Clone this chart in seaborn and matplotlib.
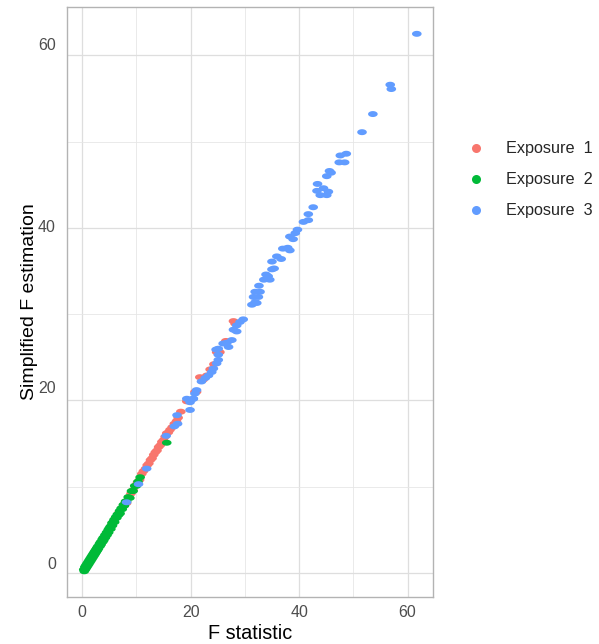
import numpy as np
import pandas as pd
import matplotlib
matplotlib.use("Agg")
import matplotlib.pyplot as plt
from matplotlib.path import Path
from matplotlib.markers import MarkerStyle
from matplotlib.lines import Line2D
from matplotlib.ticker import MultipleLocator
from matplotlib.transforms import ScaledTranslation
import seaborn as sns

# Exposure 1 (red)
exp1_f = [5.5, 6.2, 6.8, 7.3, 7.8, 8.2, 8.6, 9.0, 9.4, 9.8, 10.2, 10.6, 11.0, 11.3,
          11.7, 12.0, 12.3, 12.6, 12.9, 13.2, 13.5, 13.8, 14.1, 14.4, 14.7, 15.0,
          15.3, 15.6, 15.9, 16.2, 16.6, 17.0, 17.4, 17.7, 18.2, 19.3, 19.6, 20.8,
          21.1, 21.7, 22.3, 23.0, 23.6, 24.3, 24.8, 25.4, 26.5, 27.9, 28.2]
exp1_s = [5.6, 6.4, 7.0, 7.5, 8.0, 8.1, 8.8, 9.2, 9.6, 10.1, 10.5, 10.8, 11.5, 11.8,
          12.1, 12.5, 12.7, 13.1, 13.3, 13.7, 14.0, 14.2, 14.6, 14.8, 15.2, 15.4,
          15.8, 16.2, 16.3, 16.6, 16.9, 17.3, 17.6, 18.0, 18.7, 19.9, 20.0, 21.0,
          21.0, 22.7, 22.4, 22.9, 23.6, 24.2, 25.6, 25.6, 26.9, 29.2, 28.9]

# Exposure 2 (green)
exp2_f = [0.3, 0.4, 0.5, 0.6, 0.7, 0.8, 0.9, 1.0, 1.1, 1.2, 1.3, 1.4, 1.5, 1.6, 1.7,
          1.8, 1.9, 2.0, 2.1, 2.2, 2.3, 2.4, 2.5, 2.6, 2.7, 2.8, 2.9, 3.0, 3.2, 3.3,
          3.4, 3.5, 3.7, 3.8, 3.9, 4.0, 4.2, 4.3, 4.5, 4.6, 4.8, 4.9, 5.0, 5.2, 5.3,
          5.5, 5.6, 5.8, 5.9, 6.0, 6.2, 6.4, 6.5, 6.7, 6.9, 7.0, 7.2, 7.4, 7.6, 7.8,
          8.0, 8.2, 8.5, 8.8, 9.1, 9.4, 9.7, 10.0, 10.3, 10.7, 15.6]
exp2_s = [0.4, 0.2, 0.7, 0.4, 0.9, 0.6, 1.1, 0.8, 1.3, 1.0, 1.5, 1.2, 1.7, 1.4, 1.9,
          1.6, 2.1, 1.8, 2.3, 2.0, 2.5, 2.2, 2.7, 2.4, 2.9, 2.6, 3.1, 2.8, 3.4, 3.1,
          3.6, 3.3, 3.9, 3.6, 4.1, 3.8, 4.4, 4.1, 4.7, 4.4, 5.0, 4.7, 5.2, 5.4, 5.1,
          5.8, 5.5, 6.0, 6.2, 5.9, 6.5, 6.4, 6.8, 6.7, 7.2, 6.9, 7.5, 7.4, 7.9, 7.8,
          8.3, 8.3, 8.8, 8.7, 9.5, 9.5, 10.1, 10.1, 10.6, 11.1, 15.1]

# Exposure 3 (blue)
exp3_f = [8.2, 10.4, 11.9, 15.5, 17.0, 17.6, 17.5, 19.3, 19.9, 20.5, 19.9, 20.5,
          20.8, 21.1, 22.0, 22.7, 23.3, 23.9, 24.2, 24.8, 25.1, 25.1, 24.7, 25.1,
          26.0, 26.7, 27.6, 27.0, 27.9, 28.5, 28.5, 29.1, 29.7, 31.3, 31.9, 32.2,
          32.5, 31.6, 31.9, 32.6, 32.8, 33.5, 33.9, 34.3, 34.6, 35.0, 35.4, 35.0,
          35.9, 36.7, 37.0, 37.9, 38.3, 38.3, 38.9, 39.3, 39.7, 40.8, 41.7, 41.7,
          42.6, 43.3, 43.9, 44.5, 45.1, 45.4, 43.4, 45.1, 45.9, 45.6, 47.4, 48.4,
          47.6, 48.7, 51.6, 53.6, 56.8, 57.0, 61.7]
exp3_s = [8.2, 10.3, 12.1, 15.9, 17.0, 17.3, 18.3, 20.2, 18.9, 20.2, 19.8, 20.2,
          20.8, 21.2, 22.2, 22.6, 22.9, 23.3, 23.7, 24.3, 24.7, 25.3, 25.9, 26.0,
          26.6, 26.7, 27.0, 26.2, 28.2, 28.0, 28.7, 29.1, 29.4, 31.1, 31.4, 31.3,
          32.0, 32.0, 32.6, 33.3, 32.6, 34.0, 34.6, 34.4, 34.0, 35.2, 35.3, 36.1,
          36.7, 36.4, 37.6, 37.7, 37.4, 39.0, 38.7, 39.4, 39.8, 40.7, 40.9, 41.6,
          42.4, 44.3, 43.8, 44.6, 43.8, 44.2, 45.1, 46.0, 46.4, 46.6, 47.6, 47.6,
          48.4, 48.6, 51.1, 53.2, 56.6, 56.1, 62.5]

groups = ["Exposure  1", "Exposure  2", "Exposure  3"]
colors = ["#F8766D", "#00BA38", "#619CFF"]

df = pd.DataFrame({
    "F statistic": exp1_f + exp2_f + exp3_f,
    "Simplified F estimation": exp1_s + exp2_s + exp3_s,
    "exposure": [groups[0]] * len(exp1_f) + [groups[1]] * len(exp2_f) + [groups[2]] * len(exp3_f),
})

sns.set_theme(style="whitegrid")
plt.rcParams['font.family'] = ['Liberation Sans', 'DejaVu Sans']

# points look stretched horizontally in the reference
t = np.linspace(0, 2 * np.pi, 40)
ell = Path(np.column_stack([np.cos(t), 0.62 * np.sin(t)]), closed=True)
ell_marker = MarkerStyle(ell)

fig = plt.figure(figsize=(5.99, 6.44), dpi=100)
ax = fig.add_axes([0.112, 0.073, 0.611, 0.916])

sns.scatterplot(data=df, x="F statistic", y="Simplified F estimation", hue="exposure",
                palette=colors, marker=ell_marker, s=48, linewidth=0, alpha=1,
                legend=False, ax=ax)

ax.set_xlim(-2.77, 64.7)
ax.set_ylim(-2.78, 65.6)
ax.xaxis.set_major_locator(MultipleLocator(20))
ax.yaxis.set_major_locator(MultipleLocator(20))
ax.xaxis.set_minor_locator(MultipleLocator(10))
ax.yaxis.set_minor_locator(MultipleLocator(10))
ax.grid(which="major", color="#DEDEDE", linewidth=0.9)
ax.grid(which="minor", color="#E6E6E6", linewidth=0.6)
ax.set_axisbelow(True)
for sp in ax.spines.values():
    sp.set_color("#B3B3B3")
    sp.set_linewidth(1.0)
ax.tick_params(which="major", length=0, labelcolor="#4D4D4D", labelsize=11.5)
ax.tick_params(axis="x", pad=6)
ax.tick_params(axis="y", pad=8)
ax.tick_params(which="minor", length=0)
ax.set_xlabel("F statistic", fontsize=14.3, color="black", labelpad=3)
ax.set_ylabel("Simplified F estimation", fontsize=14, color="black", labelpad=0)

# y tick labels sit a little above their grid lines in the reference
ax.figure.canvas.draw()
offsets = {"0": 0.10, "20": 0.13, "40": 0.02, "60": 0.11}
for lab in ax.get_yticklabels():
    dy = offsets.get(lab.get_text(), 0.0)
    lab.set_transform(lab.get_transform() + ScaledTranslation(0, dy, fig.dpi_scale_trans))

handles = [Line2D([], [], marker="o", linestyle="", markersize=6.5,
                  markerfacecolor=c, markeredgewidth=0) for c in colors]
fig.legend(handles, groups, loc="upper left", bbox_to_anchor=(0.755, 0.803),
           frameon=False, fontsize=11.7, handletextpad=1.3, labelspacing=0.98,
           handlelength=1.1)

fig.savefig("out.png", dpi=100)
